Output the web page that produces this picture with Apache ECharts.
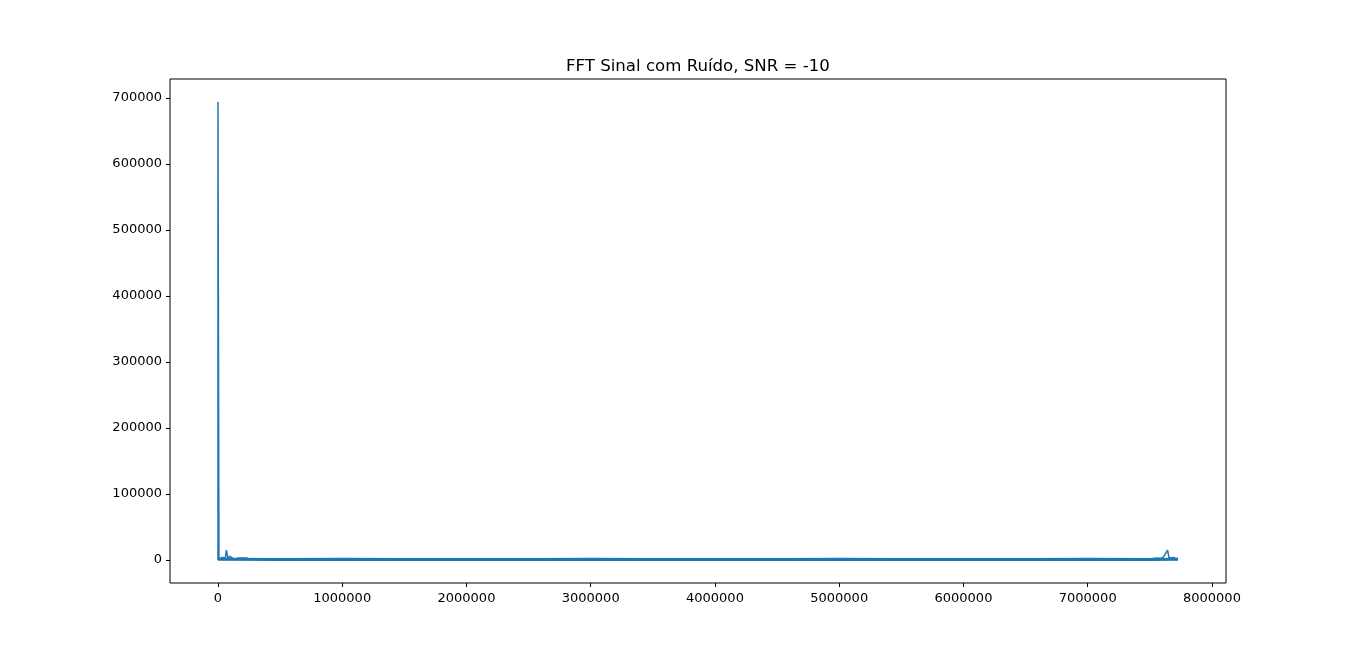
<!DOCTYPE html>
<html>
<head>
<meta charset="utf-8">
<script src="https://cdn.jsdelivr.net/npm/echarts@6/dist/echarts.min.js"></script>
<style>
  html, body { margin: 0; padding: 0; background: #fff; }
  #chart { width: 1362px; height: 655px; }
</style>
</head>
<body>
<div id="chart"></div>
<script>
// FFT magnitude (frequency bin, magnitude)
var peakFreq = [0, 0, 8000, 16000, 32000, 48000, 60000, 68000, 80000, 97000, 113000, 129000,
  169000, 185000, 201000, 217000, 234000, 260000,
  7470000, 7560000, 7590000, 7610000, 7625000, 7643000, 7655000, 7670000, 7690000, 7710000, 7727000]
var peakMag = [0, 694000, 1500, 2500, 4000, 2000, 3500, 15000, 3000, 5500, 4500, 1500,
  3000, 1200, 3000, 1200, 3000, 1200,
  1200, 3000, 2500, 5000, 4500, 15000, 3000, 5500, 4000, 1800, 3000]

// noise floor across the spectrum
var floorFreq = [0, 500000, 1000000, 1500000, 2000000, 2500000, 3000000, 3500000, 4000000,
  4500000, 5000000, 5500000, 6000000, 6500000, 7000000, 7500000, 7727000]
var floorMag = [1100, 1000, 1100, 1000, 1050, 1000, 1100, 1000, 1050, 1000, 1100, 1000, 1050, 1000, 1100, 1000, 1100]

var xTicks = [0, 1000000, 2000000, 3000000, 4000000, 5000000, 6000000, 7000000, 8000000]
var yTicks = [0, 100000, 200000, 300000, 400000, 500000, 600000, 700000]
var titleText = 'FFT Sinal com Ruído, SNR = -10'

var chart = echarts.init(document.getElementById('chart'))

function zip(a, b) {
  var out = []
  for (var i = 0; i < a.length; i++) out.push([a[i], b[i]])
  return out
}

var font = 'DejaVu Sans'
var option = {
  animation: false,
  backgroundColor: '#fff',
  title: {
    text: titleText,
    left: 561,
    top: 53,
    textStyle: { fontFamily: font, fontSize: 16.6, fontWeight: 'normal', color: '#000' }
  },
  grid: {
    left: 170, right: 136, top: 79, bottom: 72,
    show: true, borderColor: '#000', borderWidth: 1, backgroundColor: 'transparent'
  },
  xAxis: {
    type: 'value',
    min: -386000,
    max: 8113000,
    axisLine: { show: false, onZero: false },
    splitLine: { show: false },
    axisTick: { show: true, customValues: xTicks, length: 4, lineStyle: { color: '#000' } },
    axisLabel: {
      customValues: xTicks,
      fontFamily: font, fontSize: 13, color: '#000', margin: 9,
      formatter: function (v) { return String(v) }
    }
  },
  yAxis: {
    type: 'value',
    min: -34700,
    max: 728700,
    axisLine: { show: false, onZero: false },
    splitLine: { show: false },
    axisTick: { show: true, customValues: yTicks, length: 4, lineStyle: { color: '#000' } },
    axisLabel: {
      customValues: yTicks,
      fontFamily: font, fontSize: 13, color: '#000', margin: 8,
      formatter: function (v) { return String(v) }
    }
  },
  series: [
    {
      type: 'line',
      data: zip(floorFreq, floorMag),
      showSymbol: false,
      lineStyle: { color: '#1f77b4', width: 3 }
    },
    {
      type: 'line',
      data: zip(peakFreq, peakMag),
      showSymbol: false,
      lineStyle: { color: '#1f77b4', width: 1.5 }
    }
  ]
}

chart.setOption(option)
</script>
</body>
</html>
